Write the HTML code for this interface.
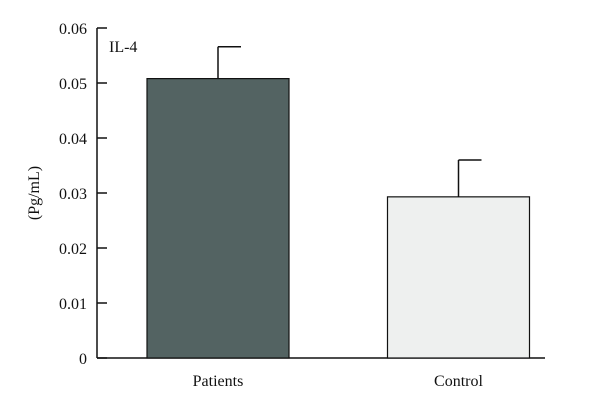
<!DOCTYPE html>
<html><head><meta charset="utf-8"><style>
body{margin:0;background:#fff}
svg{display:block}
text{font-family:"Liberation Serif",serif;fill:#111}
</style></head><body>
<svg id="chart" width="600" height="409" xmlns="http://www.w3.org/2000/svg">
<g id="axes"></g><g id="bars"></g>
<text x="109" y="52" font-size="16">IL-4</text>
<text transform="translate(39,193) rotate(-90)" text-anchor="middle" font-size="16">(Pg/mL)</text>
</svg>
<script>
const categories=["Patients","Control"];
const values=[0.0508,0.0293];
const errors=[0.0058,0.0067];
const yTicks=[0,0.01,0.02,0.03,0.04,0.05,0.06];
const tickLabels=["0","0.01","0.02","0.03","0.04","0.05","0.06"];
const fills=["#536362","#eef0ef"];
const NS="http://www.w3.org/2000/svg";
const x0=97,x1=545,yBase=358,yTop=28,vMax=0.06;
const y=v=>yBase-(v/vMax)*(yBase-yTop);
const barCenters=[218,458.5],barW=142;
function mk(t,a,p){const e=document.createElementNS(NS,t);for(const k in a)e.setAttribute(k,a[k]);p.appendChild(e);return e;}
const ax=document.getElementById('axes'),bg=document.getElementById('bars');
const yAxis=mk('line',{x1:x0,y1:y(vMax),x2:x0,y2:yBase,stroke:'#111','stroke-width':1.5},ax);


const xAxis=mk('line',{x1:x0,y1:yBase,x2:x1,y2:yBase,stroke:'#111','stroke-width':1.5},ax);


yTicks.forEach((t,i)=>{
 const tk=mk('line',{x1:x0,y1:y(t),x2:x0+10,y2:y(t),stroke:'#111','stroke-width':1.5},ax);
 
 
 const tl=mk('text',{x:x0-10,y:y(t)+6,'text-anchor':'end','font-size':16},ax);
 
 
 tl.textContent=tickLabels[i];
});
categories.forEach((c,i)=>{
 const cx=barCenters[i],top=y(values[i]),et=y(values[i]+errors[i]);
 const el=mk('line',{x1:cx,y1:top,x2:cx,y2:et,stroke:'#111','stroke-width':1.5},bg);
 
 
 const cap=mk('line',{x1:cx,y1:et,x2:cx+23,y2:et,stroke:'#111','stroke-width':1.5},bg);
 
 
 const r=mk('rect',{x:cx-barW/2,y:top,width:barW,height:yBase-top,fill:fills[i],stroke:'#111','stroke-width':1.2},bg);
 
 
 const l=mk('text',{x:cx,y:386,'text-anchor':'middle','font-size':16},bg);
 
 
 l.textContent=c;
});
</script>
</body></html>
